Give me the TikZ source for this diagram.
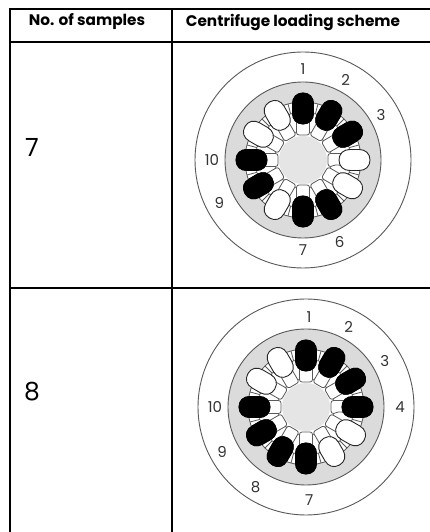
\documentclass[tikz,border=0pt]{standalone}
\usepackage{fontspec}
\setmainfont{Poppins}
\usepackage{tikz}
\usetikzlibrary{positioning, calc}
\definecolor{rotorgray}{gray}{0.86}
\definecolor{coregray}{gray}{0.9}
\definecolor{linegray}{gray}{0.35}
\tikzstyle{rule} = [line width=2pt, black]
\tikzstyle{head} = [font=\fontsize{15.3}{18}\selectfont\bfseries, inner sep=0pt]
\tikzstyle{rowlabel} = [font=\fontsize{25}{30}\selectfont, inner sep=0pt]
\tikzstyle{slotlabel} = [font=\fontsize{15}{18}\selectfont, text=black!80, inner sep=0pt]
\tikzstyle{thinline} = [line width=0.8pt, draw=linegray]
\tikzstyle{tube} = [line width=0.9pt]
% blunt sample tube, lying along the x axis
\newcommand{\tubepath}{(36,0) .. controls (36,-6.5) and (40.5,-10.5) .. (47,-10.5) -- (56,-10.5) .. controls (62.5,-10.5) and (67,-6.5) .. (67,0) .. controls (67,6.5) and (62.5,10.5) .. (56,10.5) -- (47,10.5) .. controls (40.5,10.5) and (36,6.5) .. (36,0) -- cycle}
% #1 centre, #2 loaded positions (angles), #3 printed slots (angle/text)
\newcommand{\rotor}[3]{
  \begin{scope}[shift={#1}]
    \draw[line width=0.9pt, draw=linegray, fill=white] (0,0) circle (108);
    \draw[line width=0.9pt, draw=linegray, fill=rotorgray] (0,0) circle (78);
    \draw[thinline, fill=white] (0,0) circle (58);
    \foreach \a in {0,30,...,330} {
      % spoke and small cell between two slots
      \draw[thinline, rotate=\a+15] (48,0) -- (58,0);
      \draw[thinline, rotate=\a+15, fill=white, rounded corners=2pt] (27,0) -- (34,-4.5) -- (44,-4) -- (49,0) -- (44,4) -- (34,4.5) -- cycle;
      \draw[thinline, rotate=\a, fill=white, rounded corners=2.5pt] (25,-6.5) rectangle (40,6.5);
    }
    \fill[coregray] (0,0) circle (24);
    \foreach \a in {0,30,...,330}
      \draw[tube, draw=black!85, fill=white, rotate=\a] \tubepath;
    \foreach \a in #2
      \draw[tube, draw=black, fill=black, rotate=\a] \tubepath;
    \foreach \a/\r/\n in #3
      \node[slotlabel] (slot\n) at (\a:\r) {\n};
  \end{scope}
}

\begin{document}
\begin{tikzpicture}[x=1pt, y=1pt]
  \useasboundingbox (0,0) rectangle (430,532);
  \draw[rule] (10,0) -- (10,524);
  \draw[rule] (172,0) -- (172,523);
  \draw[rule] (9,523) -- (430,523);
  \draw[rule] (10,490) -- (430,490);
  \draw[rule] (10,244) -- (430,244);

  \node[head] (samples) at (87,510) {No. of samples};
  \node[head] (scheme) at (293,510) {Centrifuge loading scheme};
  \node[rowlabel] (seven) at (32,385) {7};
  \node[rowlabel] (eight) at (32,140) {8};

  \rotor{(303,372)}{{90,60,30,180,210,270,300}}{{90/91/1,62/91/2,30/90/3,180/91/10,207/94/9,270/90/7,294/90/6}}
  \rotor{(306,125)}{{90,60,30,0,180,210,240,270}}{{88/90/1,62/91/2,30/91/3,0/94/4,180/91/10,208/95/9,238/95/8,272/93/7}}
\end{tikzpicture}
\end{document}
